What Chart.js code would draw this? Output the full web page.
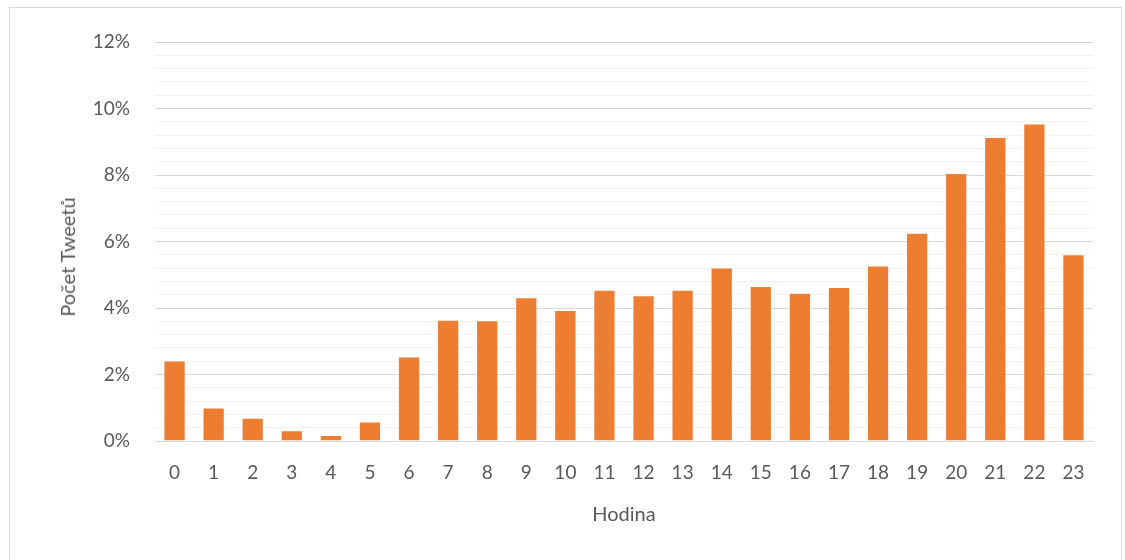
<!DOCTYPE html>
<html>
<head>
<meta charset="utf-8">
<script src="https://cdn.jsdelivr.net/npm/chart.js@4/dist/chart.umd.min.js"></script>
<style>
    body { margin: 0; background: #fff; }
    #frame { position: absolute; left: 9px; top: 7px; width: 1111px; height: 600px; border: 1px solid #d9d9d9; }
    #myChart { position: absolute; left: 0; top: 0; }
    #yTitle {
        position: absolute; left: 67px; top: 257px;
        transform: translate(-50%, -50%) rotate(-90deg);
        white-space: nowrap;
        font-family: Lato, "Open Sans", sans-serif; font-size: 20px; color: #595959;
    }
</style>
</head>
<body>
<div id="frame"></div>
<canvas id="myChart" width="1125" height="560"></canvas>
<div id="yTitle">Počet Tweetů</div>
<script>
// hodiny 0-23
var hours = ['0', '1', '2', '3', '4', '5', '6', '7', '8', '9', '10', '11',
             '12', '13', '14', '15', '16', '17', '18', '19', '20', '21', '22', '23'];
// podil tweetu v %
var tweetShare = [2.42, 1.01, 0.70, 0.32, 0.18, 0.59, 2.54, 3.65, 3.63, 4.32, 3.94, 4.55,
                  4.38, 4.55, 5.22, 4.66, 4.46, 4.63, 5.28, 6.26, 8.06, 9.14, 9.55, 5.62];
var yMax = 12;
var yStep = 0.4;   // vedlejsi mrizka
var yMajor = 2;    // hlavni mrizka s popisky

function isMajor(v) {
    return Math.abs(v / yMajor - Math.round(v / yMajor)) < 1e-6;
}

var font = 'Lato, "Open Sans", sans-serif';
var ctx = document.getElementById('myChart').getContext('2d');

var chart = new Chart(ctx, {
    type: 'bar',
    data: {
        labels: hours,
        datasets: [{
            data: tweetShare,
            backgroundColor: '#ed7d31',
            borderColor: 'rgba(255,255,255,0.5)',
            borderWidth: 1,
            barPercentage: 0.57,
            categoryPercentage: 1
        }]
    },
    options: {
        responsive: false,
        animation: false,
        layout: { padding: { left: 0, right: 32, top: 42, bottom: 0 } },
        plugins: {
            legend: { display: false },
            tooltip: { enabled: false }
        },
        scales: {
            x: {
                grid: { display: false, drawTicks: false },
                border: { color: '#d9d9d9', width: 1 },
                ticks: {
                    color: '#595959',
                    font: { family: font, size: 19 },
                    padding: 20,
                    maxRotation: 0,
                    autoSkip: false
                },
                title: {
                    display: true,
                    text: 'Hodina',
                    color: '#595959',
                    font: { family: font, size: 20 },
                    padding: { top: 0, bottom: 33 }
                },
                afterFit: function(scale) { scale.height = 119; }
            },
            y: {
                min: 0,
                max: yMax,
                border: { display: false },
                grid: {
                    drawTicks: false,
                    lineWidth: 1,
                    color: function(c) {
                        return isMajor(c.tick.value) ? '#d9d9d9' : '#f2f2f2';
                    }
                },
                ticks: {
                    stepSize: yStep,
                    autoSkip: false,
                    color: '#595959',
                    font: { family: font, size: 19 },
                    padding: 25,
                    callback: function(v) {
                        return isMajor(v) ? Math.round(v) + '%' : '';
                    }
                },
                afterFit: function(scale) { scale.width = 155; }
            }
        }
    }
});
</script>
</body>
</html>
